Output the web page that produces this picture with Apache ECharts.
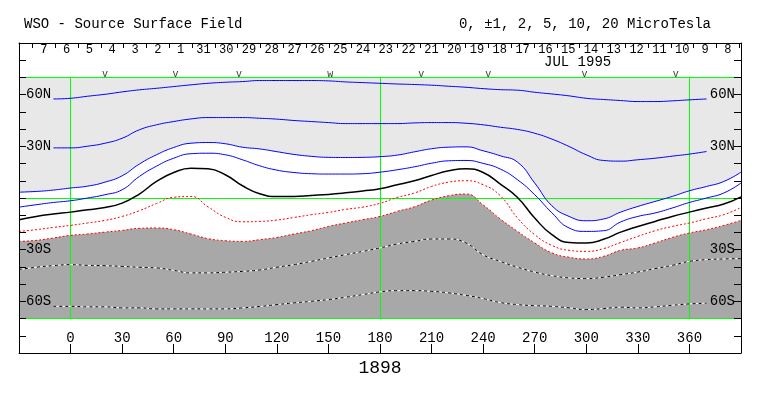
<!DOCTYPE html>
<html><head><meta charset="utf-8">
<script src="https://cdn.jsdelivr.net/npm/echarts@6/dist/echarts.min.js"></script>
<style>html,body{margin:0;padding:0;background:#fff}#c{width:763px;height:396px}</style>
</head><body><div id="c"></div>
<script>
// Carrington longitude samples (degrees), plot extends 30 deg beyond each side
const lons = [-30,-20,-10,0,10,20,30,40,50,60,70,80,90,100,110,120,130,140,150,160,170,180,190,200,210,220,230,240,250,260,270,280,290,300,310,320,330,340,350,360,370,380,390];

// Contour latitudes (degrees)
const blue1 = [null,null,57.5,57.9,59.1,60.2,61.6,62.8,63.7,64.7,65.7,66.6,67.2,67.6,68.2,68.2,68.2,68.2,68.0,67.4,67.0,66.6,66.2,65.9,65.5,64.9,64.3,63.5,62.9,62.6,61.4,60.4,59.3,57.9,57.2,56.6,56.0,56.0,56.4,57.0,57.5,null,null];
const blue2 = [null,null,29.1,29.1,30.1,31.8,34.7,39.6,42.5,44.4,45.9,46.7,46.7,46.7,46.3,45.8,45.0,44.4,43.8,43.2,43.2,43.2,43.2,43.6,43.8,43.8,43.4,42.5,41.1,39.8,37.6,34.2,29.9,25.1,21.8,21.4,22.2,23.1,24.3,25.5,27.0,null,null];
const blue3 = [3.4,3.8,4.6,5.8,6.9,9.2,12.9,19.7,25.1,29.3,31.8,32.2,31.5,29.5,28.5,26.9,25.3,24.2,23.6,23.5,23.6,24.0,24.9,26.8,28.6,29.5,29.7,27.4,24.5,20.8,8.7,-4.5,-10.7,-13.2,-12.2,-8.2,-4.9,-2.0,0.9,4.2,6.7,9.6,15.0];
const blue4 = [-5.3,-3.9,-2.6,-1.6,0.0,1.9,4.8,12.5,18.5,23.1,25.7,26.0,25.1,22.2,18.7,16.2,14.8,14.1,13.9,13.9,14.1,15.0,16.4,18.1,20.2,21.6,21.8,20.1,16.8,10.6,1.9,-8.6,-17.4,-19.4,-19.0,-13.9,-10.7,-8.7,-5.8,-2.6,0.0,2.9,8.7];
const neutral = [-12.6,-10.7,-9.3,-8.2,-6.8,-5.5,-3.0,2.3,9.6,14.8,17.3,17.0,13.5,7.1,2.5,0.8,0.9,1.5,2.1,3.0,4.1,5.4,7.7,10.0,13.1,15.8,17.0,14.8,8.1,0.3,-11.6,-21.3,-25.8,-26.1,-24.0,-19.8,-16.5,-13.6,-10.7,-8.2,-5.8,-3.5,0.7];
const red1 = [-19.4,-18.4,-17.1,-15.9,-14.5,-13.0,-10.7,-7.4,-3.2,0.4,0.9,-5.2,-11.2,-13.8,-13.6,-12.8,-11.3,-9.7,-8.4,-6.6,-5.3,-3.1,0.3,2.9,6.7,9.2,10.0,7.7,1.3,-11.6,-21.3,-27.5,-30.4,-31.0,-29.4,-25.8,-22.3,-19.0,-16.5,-14.5,-12.0,-9.7,-5.5];
const red2 = [-25.2,-24.6,-23.2,-21.7,-20.9,-19.8,-18.8,-17.6,-17.4,-18.4,-20.9,-23.6,-24.8,-25.2,-24.2,-22.9,-20.9,-19.0,-16.5,-14.5,-12.6,-10.7,-7.8,-5.1,-1.2,1.3,2.3,-4.0,-12.2,-19.4,-26.1,-31.9,-34.4,-35.4,-33.9,-30.4,-29.0,-26.1,-22.9,-20.3,-18.4,-15.9,-13.0];
const dot1 = [-41.6,-40.2,-39.3,-38.7,-39.1,-39.3,-39.7,-40.2,-40.6,-42.0,-43.5,-43.5,-43.1,-42.6,-41.8,-40.2,-38.7,-36.8,-34.8,-32.9,-31.0,-29.0,-26.7,-25.2,-23.8,-23.8,-26.1,-33.0,-36.8,-40.2,-43.0,-45.1,-46.4,-46.8,-46.0,-44.5,-43.0,-41.0,-39.1,-36.8,-35.8,-35.4,-35.2];
const dot2 = [null,null,-62.9,-62.9,-63.2,-63.2,-63.8,-63.8,-64.4,-64.4,-64.4,-64.4,-64.4,-63.8,-63.0,-61.9,-60.9,-60.0,-59.0,-57.6,-56.1,-54.5,-53.8,-53.8,-54.2,-55.1,-56.5,-58.4,-60.7,-61.9,-62.5,-62.9,-63.8,-64.8,-64.2,-63.4,-63.8,-63.2,-62.3,-61.5,-61.1,null,null];

// Top scale: day of month (Carrington days) and markers
const dayLabels = ['7','6','5','4','3','2','1','31','30','29','28','27','26','25','24','23','22','21','20','19','18','17','16','15','14','13','12','11','10','9','8'];
const markerLon = [20,61,98,151,204,243,299,352];
const markerSym = ['v','v','v','w','v','v','v','v'];

// Axis labels
const latLabels = {'60':'60N','30':'30N','-30':'30S','-60':'60S'};
const greenLats = [70,-70,0];
const greenLons = [0,180,360];
const titleText = 'WSO - Source Surface Field';
const unitsText = '0, \u00b11, 2, 5, 10, 20 MicroTesla';
const monthText = 'JUL 1995';
const rotationText = '1898';

const FONT = "'Liberation Mono','DejaVu Sans Mono',monospace";
const S = 0.5;
function pairs(arr){ return lons.map((x,i)=>[x, arr[i]]); }

const chart = echarts.init(document.getElementById('c'), null, {renderer:'canvas'});

function contour(data, color, width, type, z){
  return {type:'line', xAxisIndex:2, yAxisIndex:2, data:pairs(data), smooth:S, symbol:'none',
    connectNulls:false, silent:true, z:z||6,
    lineStyle:{color:color, width:width, type:type||'solid'}};
}

const option = {
  animation:false,
  backgroundColor:'#fff',
  title:[
    {text:titleText, left:24, top:17, padding:0, textStyle:{fontFamily:FONT, fontSize:14, fontWeight:'normal', color:'#000'}},
    {text:unitsText, right:52, top:17, padding:0, textStyle:{fontFamily:FONT, fontSize:14, fontWeight:'normal', color:'#000'}},
    {text:monthText, left:544, top:55, padding:0, textStyle:{fontFamily:FONT, fontSize:14, fontWeight:'normal', color:'#000'}}
  ],
  grid:[
    {left:19, right:22, top:43, bottom:43, show:false},
    {left:19, right:22, top:77.444, bottom:77.444, show:false},
    {left:32.4, right:23.8, top:43, height:20, show:false}
  ],
  xAxis:[
    {gridIndex:0, type:'value', min:-30, max:390, interval:30, position:'bottom', z:10,
     axisLine:{show:true, onZero:false, lineStyle:{color:'#000', width:1}},
     axisTick:{show:true, inside:true, length:9, lineStyle:{color:'#000'}},
     axisLabel:{show:true, inside:true, margin:8, fontFamily:FONT, fontSize:14, color:'#000',
       formatter:v => (v<0||v>360) ? '' : String(v)},
     splitLine:{show:false},
     name:rotationText, nameLocation:'middle', nameGap:6,
     nameTextStyle:{fontFamily:FONT, fontSize:18, color:'#000'}},
    {gridIndex:0, type:'value', min:-30, max:390, position:'top', z:10,
     axisLine:{show:true, onZero:false, lineStyle:{color:'#000', width:1}},
     axisTick:{show:false}, axisLabel:{show:false}, splitLine:{show:false}},
    {gridIndex:1, type:'value', min:-30, max:390, show:false},
    {gridIndex:2, type:'category', data:dayLabels, position:'top', boundaryGap:true, z:10,
     axisLine:{show:false, onZero:false},
     axisTick:{show:true, inside:true, length:5, interval:0, lineStyle:{color:'#000'}},
     axisLabel:{show:true, inside:true, interval:0, margin:1, fontFamily:FONT, fontSize:12, color:'#000'},
     splitLine:{show:false}}
  ],
  yAxis:[
    {gridIndex:0, type:'value', min:-90, max:90, interval:10, position:'left', z:10,
     axisLine:{show:true, onZero:false, lineStyle:{color:'#000', width:1}},
     axisTick:{show:true, inside:true, length:7, lineStyle:{color:'#000'}},
     axisLabel:{show:true, inside:true, margin:7, fontFamily:FONT, fontSize:14, color:'#000',
       formatter:v => latLabels[String(v)] || ''},
     splitLine:{show:false}},
    {gridIndex:0, type:'value', min:-90, max:90, interval:10, position:'right', z:10,
     axisLine:{show:true, onZero:false, lineStyle:{color:'#000', width:1}},
     axisTick:{show:true, inside:true, length:7, lineStyle:{color:'#000'}},
     axisLabel:{show:true, inside:true, margin:6, fontFamily:FONT, fontSize:14, color:'#000',
       formatter:v => latLabels[String(v)] || ''},
     splitLine:{show:false}},
    {gridIndex:1, type:'value', min:-70, max:70, show:false},
    {gridIndex:2, type:'value', show:false}
  ],
  series:[
    {type:'line', xAxisIndex:2, yAxisIndex:2, data:pairs(blue3), smooth:S, symbol:'none', silent:true, z:1,
     lineStyle:{width:0, opacity:0}, areaStyle:{color:'#e8e8e8', opacity:1, origin:'end'}},
    {type:'line', xAxisIndex:2, yAxisIndex:2, data:pairs(red2), smooth:S, symbol:'none', silent:true, z:1,
     lineStyle:{width:0, opacity:0}, areaStyle:{color:'#a8a8a8', opacity:1, origin:'start'}},
    {type:'line', xAxisIndex:0, yAxisIndex:0, data:[[-30,-80]], symbol:'none', silent:true, z:2,
     lineStyle:{width:0, opacity:0},
     markLine:{silent:true, symbol:'none', z:3, animation:false, label:{show:false},
       lineStyle:{color:'#00ff00', width:1, type:'solid'},
       data: greenLats.map(v => ({yAxis:v})).concat(
             greenLons.map(x => [{coord:[x, greenLats[1]]},{coord:[x, greenLats[0]]}]))}},
    contour(blue1, '#0000ff', 1),
    contour(blue2, '#0000ff', 1),
    contour(blue3, '#0000ff', 1),
    contour(blue4, '#0000ff', 1),
    contour(neutral, '#000000', 1.5),
    contour(red1, '#ff0000', 1, [2,2]),
    contour(red2, '#ff0000', 1, [2,2]),
    contour(dot1, '#ffffff', 1, 'solid', 5),
    contour(dot1, '#000000', 1, [3,3]),
    contour(dot2, '#ffffff', 1, 'solid', 5),
    contour(dot2, '#000000', 1, [3,3]),
    {type:'scatter', xAxisIndex:0, yAxisIndex:0, silent:true, z:7, symbolSize:0,
     data: markerLon.map((x,i) => [x, 72, markerSym[i]]),
     label:{show:true, position:'inside', formatter:p => p.data[2], fontFamily:FONT, fontSize:10, color:'#000'}}
  ]
};
chart.setOption(option);
</script></body></html>
